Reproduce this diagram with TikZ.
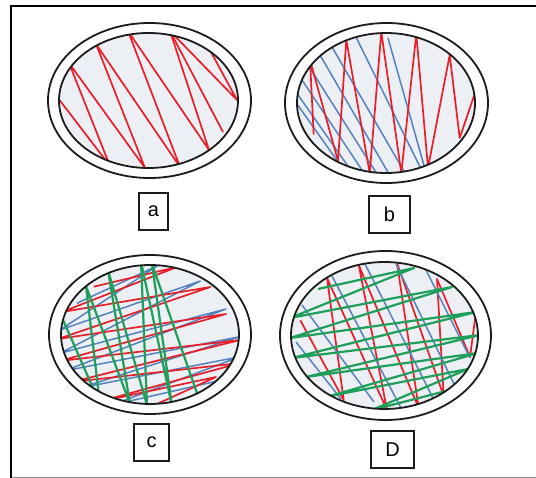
\documentclass[tikz,border=0pt]{standalone}
\usepackage{fontspec}
\setmainfont{Liberation Sans}
\begin{document}
\definecolor{thread red}{RGB}{232,30,40}
\definecolor{thread blue}{RGB}{84,130,192}
\definecolor{thread green}{RGB}{30,160,90}
\definecolor{plate fill}{RGB}{236,239,243}
\definecolor{rim}{RGB}{28,28,28}
\begin{tikzpicture}[x=1pt,y=-1pt,
  rimline/.style={draw=rim,line width=1.8pt},
  redthread/.style={draw=thread red,line width=1.7pt,line join=round},
  bluethread/.style={draw=thread blue,line width=1.5pt,line join=round},
  greenthread/.style={draw=thread green,line width=2.2pt,line join=round},
  labelbox/.style={draw=rim,line width=1.4pt,fill=white,inner sep=0pt,minimum height=37pt,
    font=\fontsize{20}{23}\selectfont}]
\useasboundingbox (0,0) rectangle (536,478);
\fill[white] (0,0) rectangle (536,478);

% frame
\draw[black,line width=2.6pt] (11,478) -- (11,6) -- (536,6);
\draw[black!45,line width=1.2pt] (12,477.4) -- (536,477.4);

% ---------- plate a ----------
\fill[plate fill] (148.5,100.5) ellipse [x radius=89.5,y radius=67.5];
\begin{scope}
  \clip (148.5,100.5) ellipse [x radius=89.5,y radius=67.5];
  \draw[redthread] (58,98) -- (110,166) -- (69,63) -- (145,168) -- (96,44) -- (180,167)
    -- (128,31) -- (209,150) -- (170,31) -- (237,100) -- (211,52);
  \draw[redthread] (170,31) -- (223,132);
\end{scope}
\draw[rimline] (148.5,100.5) ellipse [x radius=89.5,y radius=67.5];
\draw[rimline] (149.5,100.5) ellipse [x radius=101.5,y radius=77.5];
\node[labelbox,minimum width=29pt] (la) at (153.5,211.5) {a};

% ---------- plate b ----------
\fill[plate fill] (386,103) ellipse [x radius=89,y radius=70];
\begin{scope}
  \clip (386,103) ellipse [x radius=89,y radius=70];
  \draw[bluethread] (296,92) -- (352,172);
  \draw[bluethread] (297,104) -- (341,166);
  \draw[bluethread] (300,77) -- (364,173);
  \draw[bluethread] (308,65) -- (377,174);
  \draw[bluethread] (320,55) -- (389,174);
  \draw[bluethread] (332,47) -- (405,173);
  \draw[bluethread] (356,37) -- (422,171);
  \draw[bluethread] (388,38) -- (425,169);
  \draw[redthread] (313.7,134.7) -- (310,60) -- (338,161) -- (346.3,40) -- (369.7,173)
    -- (381.3,32) -- (401.3,173) -- (416.3,34) -- (428,168) -- (449.7,55)
    -- (459.7,138) -- (476,90);
\end{scope}
\draw[rimline] (386,103) ellipse [x radius=89,y radius=70];
\draw[rimline] (386.5,103) ellipse [x radius=101.5,y radius=80];
\node[labelbox,minimum width=41pt] (lb) at (389.5,214.5) {b};

% ---------- plate c ----------
\fill[plate fill] (150,334.5) ellipse [x radius=89,y radius=69.5];
\begin{scope}
  \clip (150,334.5) ellipse [x radius=89,y radius=69.5];
  \draw[bluethread] (77,303.3) -- (157,266) -- (60,330) -- (200.3,281) -- (60,353.3)
    -- (226,309) -- (64,371) -- (240,336.7) -- (80,388) -- (240,356.7)
    -- (112,405) -- (222,380);
  \draw[redthread] (93.7,286.7) -- (177,267) -- (62,312) -- (210.3,287) -- (58,339)
    -- (226,314) -- (60,361) -- (240,340) -- (72,382) -- (240,363)
    -- (98,402) -- (216,377) -- (157,404);
  \draw[greenthread] (60,313) -- (100,404) -- (86,286) -- (130,404) -- (108,270)
    -- (147,405) -- (141,262) -- (172,406) -- (152,264) -- (198,396);
\end{scope}
\draw[rimline] (150,334.5) ellipse [x radius=89,y radius=69.5];
\draw[rimline] (150,334.5) ellipse [x radius=101,y radius=79.5];
\node[labelbox,minimum width=35pt] (lc) at (151.5,442.5) {c};

% ---------- plate D ----------
\fill[plate fill] (384.5,335.5) ellipse [x radius=93.5,y radius=73.5];
\begin{scope}
  \clip (384.5,335.5) ellipse [x radius=93.5,y radius=73.5];
  \draw[redthread] (300.3,320.3) -- (343.7,400) -- (327,278) -- (387,410) -- (358.7,265)
    -- (418.7,408) -- (397,263) -- (443.7,396) -- (437,279) -- (470,357) -- (476,312);
  \draw[bluethread] (296,342) -- (341,399);
  \draw[bluethread] (302,305) -- (374,402);
  \draw[bluethread] (332,276) -- (401,408);
  \draw[bluethread] (365,264) -- (435,402);
  \draw[bluethread] (396,264) -- (455,386);
  \draw[bluethread] (426,270) -- (470,358);
  \draw[greenthread] (318,289) -- (414,268) -- (290,318) -- (452,287) -- (290,338)
    -- (476,312) -- (292,358) -- (480,335) -- (306,377) -- (478,353)
    -- (330,396) -- (468,369) -- (372,410) -- (450,390);
\end{scope}
\draw[rimline] (384.5,335.5) ellipse [x radius=93.5,y radius=73.5];
\draw[rimline] (385.5,335.5) ellipse [x radius=105.5,y radius=84.5];
\node[labelbox,minimum width=43pt] (ld) at (392.5,449.5) {D};
\end{tikzpicture}
\end{document}
